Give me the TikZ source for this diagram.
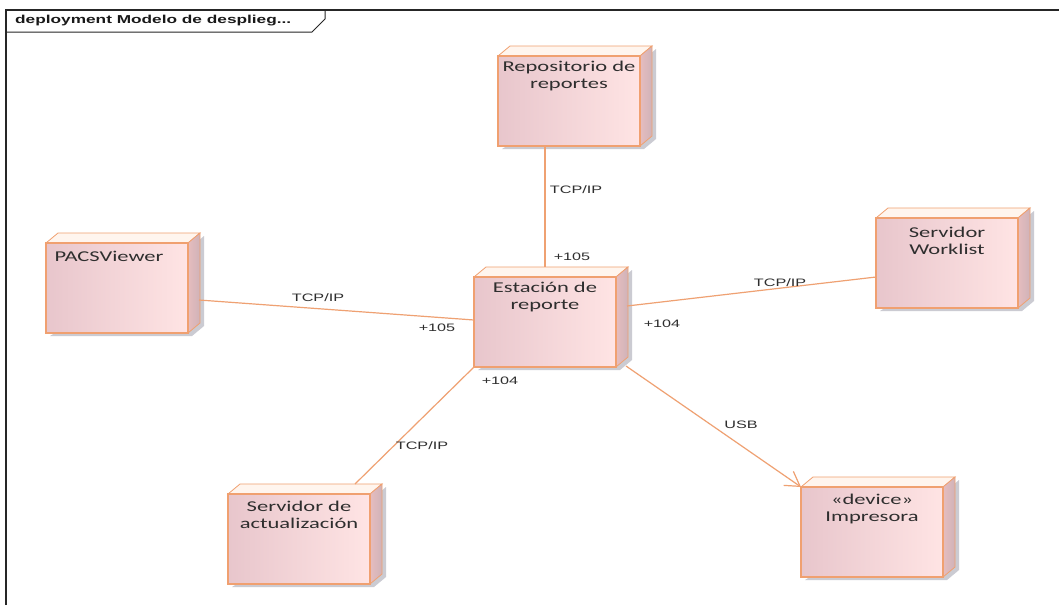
\documentclass[tikz,border=0pt]{standalone}
\usepackage{fontspec}
\setmainfont{Carlito}
\newfontfamily\arialf{Liberation Sans}
\usetikzlibrary{calc,arrows.meta}
\pgfdeclarelayer{back}
\pgfsetlayers{back,main}

\definecolor{nodeedge}{HTML}{F0A070}
\definecolor{faceL}{HTML}{E8C6CC}
\definecolor{faceR}{HTML}{FFE4E4}
\definecolor{sideL}{HTML}{E6BDBE}
\definecolor{sideR}{HTML}{CFB2B8}
\definecolor{topface}{HTML}{FFF5EE}
\definecolor{shadowc}{HTML}{CBCBD2}
\definecolor{linkc}{HTML}{EFA172}
\definecolor{inkc}{HTML}{2E2E2E}

% horizontally widened text
\newcommand\wide[1]{\scalebox{1.5}[1]{#1}}

\tikzset{
  devbox/.style={draw=nodeedge, line width=1pt, left color=faceL, right color=faceR,
    minimum width=141pt, minimum height=89pt, inner sep=0pt},
  devtext/.style={anchor=north, font=\fontsize{15}{17}\selectfont, text=inkc,
    align=center, inner sep=0pt},
  link/.style={draw=linkc, line width=1.2pt},
  linklabel/.style={font=\arialf\fontsize{10.8}{12}\selectfont, inner sep=0pt, text=inkc},
}

\begin{document}
\begin{tikzpicture}[x=1pt,y=-1pt]
  \begin{pgfonlayer}{back}
    \fill[white] (0,0) rectangle (1059,605);
  \end{pgfonlayer}
  \useasboundingbox (0,0) rectangle (1059,605);

  % diagram frame with its name tab
  \draw[line width=1.4pt, draw=black!85] (6,605) -- (6,10) -- (1059,10);
  \draw[line width=1pt, draw=black!85] (6,32) -- (312,32) -- (325,19) -- (325,10);
  \node[anchor=west, inner sep=0pt, font=\arialf\bfseries\fontsize{11.5}{13}\selectfont, text=black!90]
    (frametitle) at (15,21) {\wide{deployment Modelo de desplieg...}};

  % deployment nodes (front faces)
  \node[devbox] (rep)  at (569,101) {};
  \node[devbox] (est)  at (545,322) {};
  \node[devbox] (pacs) at (117,288) {};
  \node[devbox] (wl)   at (947,263) {};
  \node[devbox] (imp)  at (872,532) {};
  \node[devbox] (act)  at (299,539) {};

  % 3D top and side faces, plus the drop shadow
  \foreach \n in {rep,est,pacs,wl,imp,act}{
    \begin{pgfonlayer}{back}
      \fill[shadowc] ($(\n.south west)+(4,3)$) -- ($(\n.south east)+(4,3)$)
        -- ($(\n.south east)+(16,-7)$) -- ($(\n.north east)+(16,-7)$)
        -- ($(\n.north east)+(4,3)$) -- cycle;
    \end{pgfonlayer}
    \draw[draw=nodeedge, line width=0.8pt, fill=topface]
      (\n.north west) -- ++(12,-10) -- ($(\n.north east)+(12,-10)$) -- (\n.north east) -- cycle;
    \draw[draw=nodeedge, line width=0.8pt, left color=sideL, right color=sideR]
      (\n.north east) -- ++(12,-10) -- ($(\n.south east)+(12,-10)$) -- (\n.south east) -- cycle;
    \draw[draw=nodeedge, line width=1.2pt] (\n.south west) rectangle (\n.north east);
  }

  % node names
  \node[devtext] (repT)  at ($(rep.north)+(0,5)$)  {\wide{Repositorio de}\\\wide{reportes}};
  \node[devtext] (estT)  at ($(est.north)+(0,5)$)  {\wide{Estación de}\\\wide{reporte}};
  \node[devtext] (pacsT) at ($(pacs.north)+(-8,8)$) {\wide{PACSViewer}};
  \node[devtext] (wlT)   at ($(wl.north)+(0,9)$)   {\wide{Servidor}\\\wide{Worklist}};
  \node[devtext] (impT)  at ($(imp.north)+(0,7)$)  {\wide{«device»}\\\wide{Impresora}};
  \node[devtext] (actT)  at ($(act.north)+(0,7)$)  {\wide{Servidor de}\\\wide{actualización}};

  % communication paths
  \draw[link] (rep.south -| est.north) -- ($(est.north)+(0,-10)$);
  \draw[link] ($(pacs.east)+(11,12)$) -- ($(est.west)+(0,-2)$);
  \draw[link] ($(wl.west)+(0,14)$) -- ($(est.east)+(11,-16)$);
  \draw[link] ($(act.north)+(56,-10)$) -- (est.south west);
  \draw[link, -{Straight Barb[length=14pt,width=17pt,line width=1.2pt]}]
    ($(est.south east)+(10,-1)$) -- (imp.north west);

  % path labels and port numbers
  \node[linklabel] (l1) at (576,190) {\wide{TCP/IP}};
  \node[linklabel] (p1) at (572,257) {\wide{+105}};
  \node[linklabel] (l2) at (318,298) {\wide{TCP/IP}};
  \node[linklabel] (p2) at (437,328) {\wide{+105}};
  \node[linklabel] (l3) at (780,283) {\wide{TCP/IP}};
  \node[linklabel] (p3) at (662,324) {\wide{+104}};
  \node[linklabel] (p4) at (500,381) {\wide{+104}};
  \node[linklabel] (l4) at (422,446) {\wide{TCP/IP}};
  \node[linklabel] (l5) at (741,425) {\wide{USB}};
\end{tikzpicture}
\end{document}
